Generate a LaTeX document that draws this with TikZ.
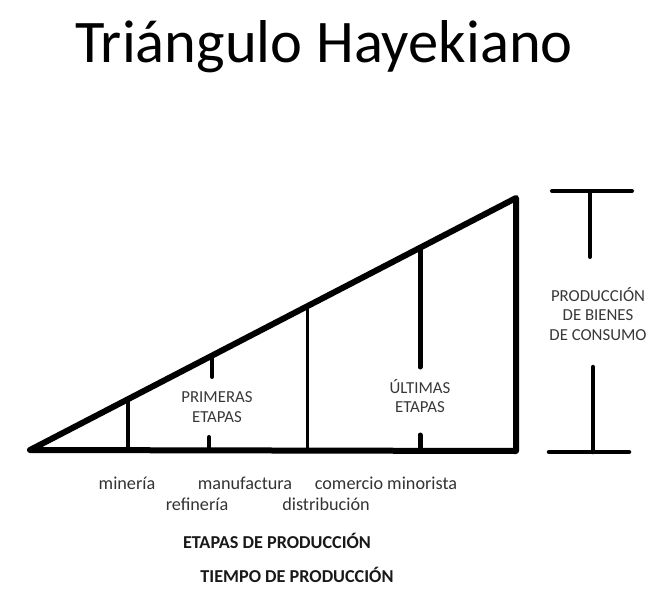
\documentclass[tikz,border=0pt]{standalone}
\usepackage{fontspec}
\setmainfont{Carlito}
\begin{document}
\begin{tikzpicture} [x=1pt, y=-1pt, line join=round, line cap=round, font=\fontsize{16.8}{19.5}\selectfont,
  lbl/.style={inner sep=0pt, anchor=base, text=black!80, font=\fontsize{18.2}{20}\selectfont},
  blk/.style={inner sep=0pt, align=center, text=black!78},
  bar/.style={line width=4pt}]
 \useasboundingbox (0,0) rectangle (665,597);
 \node[lbl, text=black, font=\fontsize{60.5}{70}\selectfont] (title) at (324,62) {Triángulo Hayekiano};
 % triangulo
 \coordinate (O) at (30,450);
 \coordinate (R) at (516,451);
 \coordinate (T) at (516,198);
 \draw[line width=6pt] (O)--(T)--(R)--cycle;
 \foreach \x/\w in {128/4,307/3}
 \draw[line width=\w pt] (\x,{450-(\x-30)*0.5185})--(\x,450);
 \draw[bar] (212,356)--(212,377) (209,437)--(209,450);
 \draw[line width=5pt] (420,248)--(420,367) (420,435)--(420,450);
 % corchete
 \draw[bar] (552,191)--(632,191) (590,191)--(590,257);
 \draw[line width=4.5pt] (549,452)--(629,452) (593,367)--(593,452);
 % textos
 \node[blk] (prim) at (217,407) {PRIMERAS\\ETAPAS};
 \node[blk] (ult) at (420,396) {ÚLTIMAS\\ETAPAS};
 \node[blk] (cons) at (598,314) {PRODUCCIÓN\\DE BIENES\\DE CONSUMO};
 \node[lbl] (min) at (127,489) {minería};
 \node[lbl] (man) at (245,489) {manufactura};
 \node[lbl] (com) at (386,489) {comercio minorista};
 \node[lbl] (ref) at (197,510) {refinería};
 \node[lbl] (dis) at (326,510) {distribución};
 \node[lbl, text=black!90, font=\fontsize{18.2}{20}\selectfont\bfseries] (etp) at (277,548) {ETAPAS DE PRODUCCIÓN};
 \node[lbl, text=black!90, font=\fontsize{18.2}{20}\selectfont\bfseries] (tmp) at (297,582) {TIEMPO DE PRODUCCIÓN};
\end{tikzpicture}
\end{document}
